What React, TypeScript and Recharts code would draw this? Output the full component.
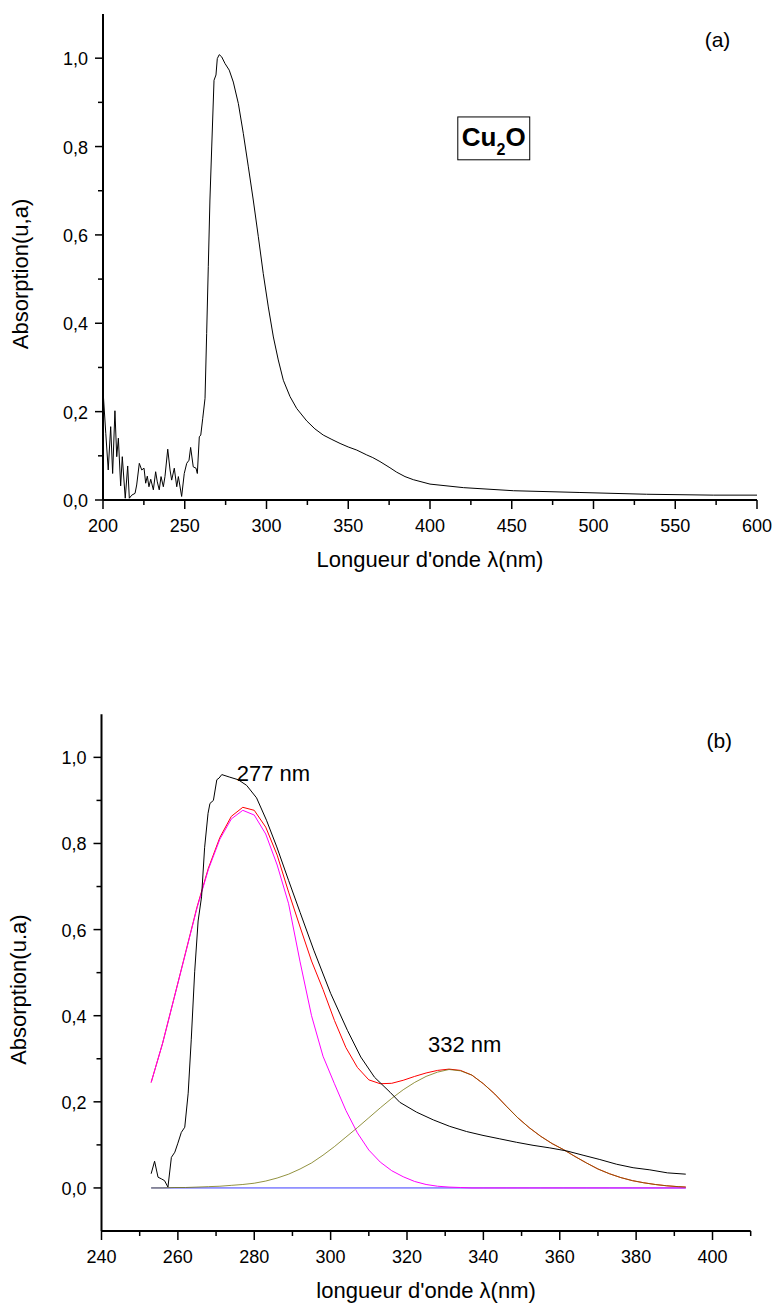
import React from 'react'
import { LineChart, Line, XAxis, YAxis, Label, ReferenceDot, ReferenceArea } from 'recharts'

const FONT = '"Liberation Sans", Arial, Helvetica, sans-serif'

// (a) Cu2O absorption spectrum
const waveA = [200.2, 201.7, 203.2, 204.7, 205.9, 207.3, 208.4, 209.4, 210.8, 211.8, 213.6, 215.1, 216.1, 217.6, 219.6, 220.6, 222.2, 223.7, 225.1, 226.1, 227.1, 228.1, 229.2, 230.8, 232.2, 233.2, 234.4, 235.5, 236.9, 237.9, 239.6, 241.0, 242.0, 243.6, 245.1, 246.1, 248.1, 249.7, 251.2, 252.6, 253.6, 255.2, 256.9, 257.7, 258.9, 259.8, 261.0, 262.4, 263.4, 264.4, 265.4, 266.5, 267.9, 269.1, 269.9, 271.1, 272.6, 274.6, 277.2, 279.7, 282.8, 285.8, 288.9, 291.9, 295.0, 298.0, 301.1, 304.2, 307.2, 310.3, 314.4, 318.5, 324.6, 329.6, 334.7, 340.0, 345.0, 350.0, 355.2, 361.3, 365.0, 369.4, 375.5, 379.6, 384.7, 389.8, 400, 420.4, 451, 491.7, 532.5, 573.3, 600]
const absA = [0.238, 0.151, 0.068, 0.166, 0.060, 0.202, 0.098, 0.140, 0.032, 0.098, 0.004, 0.077, 0.004, 0.011, 0.015, 0.034, 0.083, 0.068, 0.072, 0.038, 0.054, 0.030, 0.047, 0.023, 0.064, 0.041, 0.023, 0.053, 0.030, 0.053, 0.115, 0.068, 0.045, 0.072, 0.030, 0.053, 0.008, 0.060, 0.083, 0.090, 0.119, 0.075, 0.072, 0.060, 0.143, 0.147, 0.185, 0.230, 0.377, 0.528, 0.679, 0.799, 0.950, 0.962, 0.999, 1.008, 1.003, 0.988, 0.973, 0.946, 0.897, 0.830, 0.754, 0.679, 0.596, 0.513, 0.437, 0.369, 0.317, 0.271, 0.234, 0.207, 0.179, 0.161, 0.147, 0.137, 0.128, 0.120, 0.113, 0.102, 0.096, 0.087, 0.073, 0.063, 0.053, 0.046, 0.036, 0.028, 0.021, 0.017, 0.013, 0.011, 0.011]

// (b) measured spectrum + gaussian deconvolution
const waveB = [253.0, 253.9, 254.8, 255.7, 256.5, 257.4, 258.3, 259.2, 260.0, 260.9, 261.8, 262.7, 263.5, 264.4, 265.3, 266.2, 267.0, 267.9, 268.4, 269.3, 270.2, 270.8, 271.5, 273.6, 275.8, 278.0, 280.6, 283.2, 285.9, 289.0, 292.0, 295.6, 300.0, 304.4, 307.9, 311.5, 315.6, 318.1, 322.5, 326.9, 331.2, 335.6, 339.9, 344.3, 348.7, 353.0, 357.4, 361.8, 366.1, 370.5, 374.9, 379.2, 383.6, 388.2, 393.0]
const absB = [0.033, 0.062, 0.025, 0.021, 0.017, 0.002, 0.071, 0.083, 0.104, 0.129, 0.141, 0.220, 0.344, 0.502, 0.620, 0.676, 0.790, 0.870, 0.893, 0.900, 0.948, 0.952, 0.960, 0.954, 0.948, 0.935, 0.906, 0.854, 0.792, 0.714, 0.640, 0.552, 0.452, 0.366, 0.304, 0.257, 0.222, 0.199, 0.176, 0.158, 0.143, 0.131, 0.122, 0.114, 0.106, 0.099, 0.093, 0.086, 0.076, 0.066, 0.055, 0.047, 0.042, 0.035, 0.032]

const fitX = [253, 256, 259, 262, 265, 268, 271, 274, 277, 280, 283, 286, 289, 292, 295, 298, 301, 304, 307, 310, 313, 316, 319, 322, 325, 328, 331, 334, 337, 340, 343, 346, 349, 352, 355, 358, 361, 364, 367, 370, 373, 376, 379, 382, 385, 388, 391, 393]
const peak277 = [0.245, 0.336, 0.440, 0.545, 0.650, 0.740, 0.810, 0.857, 0.877, 0.866, 0.822, 0.750, 0.660, 0.525, 0.400, 0.306, 0.242, 0.180, 0.128, 0.088, 0.060, 0.040, 0.026, 0.015, 0.008, 0.004, 0.002, 0.001, 0, 0, 0, 0, 0, 0, 0, 0, 0, 0, 0, 0, 0, 0, 0, 0, 0, 0, 0, 0]
const peak332 = [0, 0, 0.001, 0.001, 0.002, 0.003, 0.004, 0.006, 0.008, 0.011, 0.016, 0.023, 0.032, 0.044, 0.058, 0.076, 0.096, 0.118, 0.140, 0.163, 0.186, 0.208, 0.228, 0.245, 0.259, 0.269, 0.275, 0.272, 0.262, 0.242, 0.218, 0.190, 0.163, 0.140, 0.120, 0.103, 0.089, 0.073, 0.058, 0.044, 0.033, 0.024, 0.017, 0.012, 0.008, 0.005, 0.003, 0.002]
const fitSum = [0.245, 0.336, 0.441, 0.546, 0.652, 0.743, 0.814, 0.863, 0.884, 0.877, 0.838, 0.773, 0.687, 0.606, 0.527, 0.461, 0.389, 0.326, 0.280, 0.251, 0.242, 0.243, 0.250, 0.259, 0.267, 0.273, 0.276, 0.273, 0.262, 0.242, 0.218, 0.190, 0.163, 0.140, 0.120, 0.103, 0.089, 0.073, 0.058, 0.044, 0.033, 0.024, 0.017, 0.012, 0.008, 0.005, 0.003, 0.002]
const baseX = [253, 393]
const baseY = [0, 0]

const ticksXA = [200, 225, 250, 275, 300, 325, 350, 375, 400, 425, 450, 475, 500, 525, 550, 575, 600]
const ticksXB = [240, 250, 260, 270, 280, 290, 300, 310, 320, 330, 340, 350, 360, 370, 380, 390, 400, 410]
const ticksY = [0, 0.1, 0.2, 0.3, 0.4, 0.5, 0.6, 0.7, 0.8, 0.9, 1.0]

const pts = (xs: number[], ys: number[]) => xs.map((x, i) => ({ x, y: ys[i] }))

const comma = (v: number) => v.toFixed(1).replace('.', ',')
const majorY = (v: number) => Math.round(v * 10) % 2 === 0

const bottomTick = (isMajor: (v: number) => boolean) => (props: any) => {
  const { x, y, payload } = props
  const big = isMajor(payload.value)
  return (
    <g>
      <line x1={x} y1={y} x2={x} y2={y + (big ? 9 : 5)} stroke="#000" strokeWidth={1.5} />
      {big && (
        <text x={x} y={y + 32} textAnchor="middle" fontSize={18} fontFamily={FONT} fill="#000">
          {payload.value}
        </text>
      )}
    </g>
  )
}

const leftTick = (props: any) => {
  const { x, y, payload } = props
  const big = majorY(payload.value)
  return (
    <g>
      <line x1={x} y1={y} x2={x - (big ? 8 : 5)} y2={y} stroke="#000" strokeWidth={1.5} />
      {big && (
        <text x={x - 15} y={y + 7} textAnchor="end" fontSize={18} fontFamily={FONT} fill="#000">
          {comma(payload.value)}
        </text>
      )}
    </g>
  )
}

const topTick = (props: any) => {
  const { x, y } = props
  return <line x1={x} y1={y} x2={x} y2={y - 3} stroke="#000" strokeWidth={1.2} />
}

const rightTick = (props: any) => {
  const { x, y } = props
  return <line x1={x} y1={y} x2={x + 3} y2={y} stroke="#000" strokeWidth={1.2} />
}

const xTitle = (text: string) => (props: any) => {
  const vb = props.viewBox
  return (
    <text x={vb.x + vb.width / 2} y={vb.y + 67} textAnchor="middle" fontSize={22} fontFamily={FONT} fill="#000">
      {text}
    </text>
  )
}

const yTitle = (text: string) => (props: any) => {
  const vb = props.viewBox
  const cx = vb.x + vb.width - 75
  const cy = vb.y + vb.height / 2 + 17
  return (
    <text x={cx} y={cy} transform={`rotate(-90, ${cx}, ${cy})`} textAnchor="middle" fontSize={22} fontFamily={FONT} fill="#000">
      {text}
    </text>
  )
}

const note = (text: string, size: number) => (p: any) => (
  <text x={p.cx} y={p.cy} fontSize={size} fontFamily={FONT} fill="#000">
    {text}
  </text>
)

const formulaBox = (p: any) => (
  <g>
    <rect x={p.x} y={p.y} width={p.width} height={p.height} fill="#fff" stroke="#000" strokeWidth={1} />
    <text x={p.x + p.width / 2} y={p.y + 29} textAnchor="middle" fontSize={26} fontWeight="bold" fontFamily={FONT} fill="#000">
      Cu<tspan fontSize={16} dy={9}>2</tspan><tspan fontSize={26} dy={-9}>O</tspan>
    </text>
  </g>
)

const axisLine = { stroke: '#000', strokeWidth: 2 }

const ChartA = () => (
  <LineChart width={775} height={600} margin={{ top: 14, right: 18, bottom: 70, left: 43 }}>
    <XAxis dataKey="x" type="number" domain={[200, 600]} ticks={ticksXA} interval={0} allowDataOverflow
      height={30} tickSize={0} tickMargin={0} tickLine={false} axisLine={axisLine} tick={bottomTick((v) => v % 50 === 0)}>
      <Label content={xTitle("Longueur d'onde λ(nm)")} />
    </XAxis>
    <XAxis xAxisId="top" orientation="top" dataKey="x" type="number" domain={[200, 600]} ticks={ticksXA} interval={0}
      allowDataOverflow height={0} tickSize={0} tickMargin={0} tickLine={false} axisLine={axisLine} tick={topTick} />
    <YAxis type="number" domain={[0, 1.1]} ticks={ticksY} interval={0} allowDataOverflow width={60}
      tickSize={0} tickMargin={0} tickLine={false} axisLine={axisLine} tick={leftTick}>
      <Label content={yTitle('Absorption(u,a)')} />
    </YAxis>
    <YAxis yAxisId="right" orientation="right" type="number" domain={[0, 1.1]} ticks={ticksY} interval={0}
      allowDataOverflow width={0} tickSize={0} tickMargin={0} tickLine={false} axisLine={axisLine} tick={rightTick} />
    <Line data={pts(waveA, absA)} dataKey="y" type="linear" stroke="#000" strokeWidth={1} dot={false} isAnimationActive={false} />
    <ReferenceDot x={568} y={1.026} r={0} shape={note('(a)', 21)} />
    <ReferenceArea x1={417} x2={461} y1={0.770} y2={0.867} shape={formulaBox} />
  </LineChart>
)

const ChartB = () => (
  <LineChart width={775} height={668} margin={{ top: 74.3, right: 24.3, bottom: 47, left: 41.5 }}>
    <XAxis dataKey="x" type="number" domain={[240, 410]} ticks={ticksXB} interval={0} allowDataOverflow
      height={30} tickSize={0} tickMargin={0} tickLine={false} axisLine={axisLine} tick={bottomTick((v) => v % 20 === 0)}>
      <Label content={xTitle("longueur d'onde λ(nm)")} />
    </XAxis>
    <XAxis xAxisId="top" orientation="top" dataKey="x" type="number" domain={[240, 410]} ticks={ticksXB} interval={0}
      allowDataOverflow height={0} tickSize={0} tickMargin={0} tickLine={false} axisLine={axisLine} tick={topTick} />
    <YAxis type="number" domain={[-0.1, 1.1]} ticks={ticksY} interval={0} allowDataOverflow width={60}
      tickSize={0} tickMargin={0} tickLine={false} axisLine={axisLine} tick={leftTick}>
      <Label content={yTitle('Absorption(u.a)')} />
    </YAxis>
    <YAxis yAxisId="right" orientation="right" type="number" domain={[-0.1, 1.1]} ticks={ticksY} interval={0}
      allowDataOverflow width={0} tickSize={0} tickMargin={0} tickLine={false} axisLine={axisLine} tick={rightTick} />
    <Line data={pts(baseX, baseY)} dataKey="y" type="linear" stroke="#3c3cff" strokeWidth={1} dot={false} isAnimationActive={false} />
    <Line data={pts(fitX, fitSum)} dataKey="y" type="linear" stroke="#ff0000" strokeWidth={1} dot={false} isAnimationActive={false} />
    <Line data={pts(fitX, peak277)} dataKey="y" type="linear" stroke="#ff00ff" strokeWidth={1} dot={false} isAnimationActive={false} />
    <Line data={pts(fitX, peak332)} dataKey="y" type="linear" stroke="#6e6e00" strokeOpacity={0.75} strokeWidth={1} dot={false} isAnimationActive={false} />
    <Line data={pts(waveB, absB)} dataKey="y" type="linear" stroke="#000" strokeWidth={1} dot={false} isAnimationActive={false} />
    <ReferenceDot x={398.4} y={1.021} r={0} shape={note('(b)', 21)} />
    <ReferenceDot x={275.4} y={0.945} r={0} shape={note('277 nm', 22)} />
    <ReferenceDot x={325.5} y={0.316} r={0} shape={note('332 nm', 22)} />
  </LineChart>
)

export default function App() {
  return (
    <div style={{ position: 'absolute', left: 0, top: 0, width: 775, height: 1308, background: '#fff' }}>
      <div style={{ position: 'absolute', left: 0, top: 0 }}>
        <ChartA />
      </div>
      <div style={{ position: 'absolute', left: 0, top: 640 }}>
        <ChartB />
      </div>
    </div>
  )
}
